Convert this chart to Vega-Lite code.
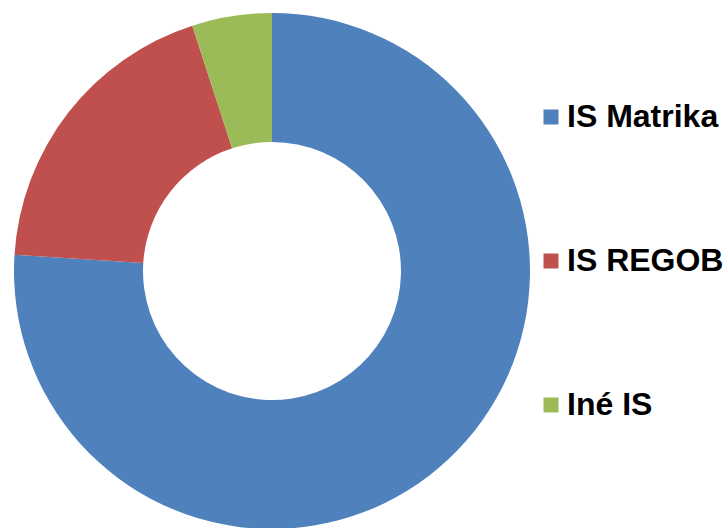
{
  "$schema": "https://vega.github.io/schema/vega-lite/v6.json",
  "width": 544,
  "height": 514,
  "autosize": {"type": "none"},
  "padding": {"left": 0, "top": 14, "right": 183, "bottom": 0},
  "background": "white",
  "view": {"stroke": null},
  "data": {
    "values": [
      {"system": "IS Matrika", "share": 76, "order": 1},
      {"system": "IS REGOB", "share": 19, "order": 2},
      {"system": "Iné IS", "share": 5, "order": 3}
    ]
  },
  "mark": {"type": "arc", "outerRadius": 258, "innerRadius": 129},
  "encoding": {
    "theta": {"field": "share", "type": "quantitative", "stack": true},
    "order": {"field": "order", "type": "quantitative"},
    "color": {
      "field": "system",
      "type": "nominal",
      "sort": ["IS Matrika", "IS REGOB", "Iné IS"],
      "scale": {"domain": ["IS Matrika", "IS REGOB", "Iné IS"], "range": ["#4F81BD", "#C0504D", "#9BBB59"]},
      "legend": {
        "orient": "none",
        "legendX": 535,
        "legendY": 87,
        "title": null,
        "symbolType": "square",
        "symbolSize": 225,
        "symbolStrokeWidth": 0,
        "labelFont": "Liberation Sans",
        "labelFontWeight": "bold",
        "labelFontSize": 32,
        "labelColor": "black",
        "labelOffset": 0,
        "rowPadding": 112,
        "labelLimit": 300
      }
    }
  }
}
